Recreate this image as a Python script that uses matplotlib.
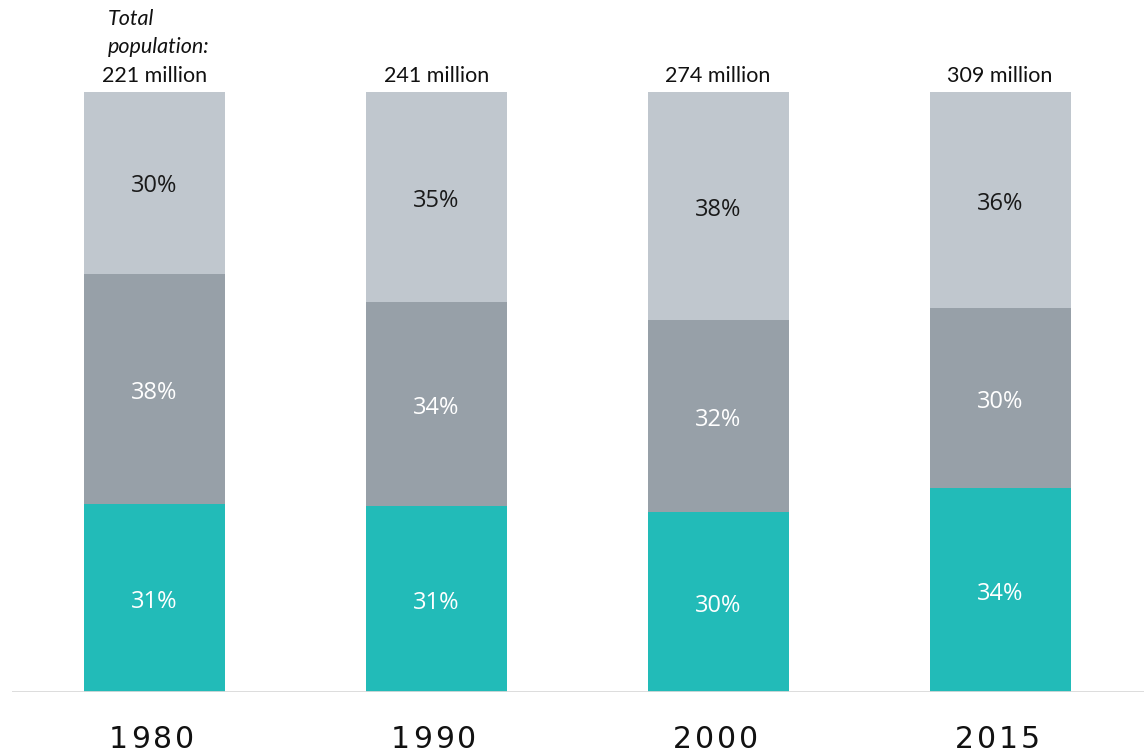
import numpy as np
import matplotlib
matplotlib.use("Agg")
import matplotlib.pyplot as plt

YEARS = ["1980", "1990", "2000", "2015"]
TOTALS = ["221 million", "241 million", "274 million", "309 million"]

# shares of total population, bottom to top
BOTTOM = [31, 31, 30, 34]
MIDDLE = [38, 34, 32, 30]
TOP = [30, 35, 38, 36]

COLORS = ["#22bbb8", "#97a0a8", "#c0c7ce"]
LABEL_COLORS = ["white", "white", "#1a1a1a"]

fig = plt.figure(figsize=(11.44, 7.52), dpi=100)
ax = fig.add_axes([12 / 1144, 60 / 752, 1132 / 1144, 692 / 752])
ax.set_xlim(-0.504, 3.51)
ax.set_ylim(0, 115.33)
ax.axis("off")

x = np.arange(len(YEARS))
stack = np.array([BOTTOM, MIDDLE, TOP], dtype=float)
# bars are scaled so every column fills the full height
scaled = stack / stack.sum(axis=0) * 100

base = np.zeros(len(YEARS))
for i in range(3):
    ax.bar(x, scaled[i], bottom=base, width=0.5, color=COLORS[i], linewidth=0)
    for j in range(len(YEARS)):
        ax.text(x[j], base[j] + scaled[i][j] / 2 - 0.6, f"{int(stack[i][j])}%",
                ha="center", va="center", fontsize=17, family="Open Sans",
                color=LABEL_COLORS[i])
    base += scaled[i]

ax.axhline(0, color="#d9d9d9", linewidth=2)

# total population above each bar
for j in range(len(YEARS)):
    ax.text(x[j], 101.0, TOTALS[j], ha="center", va="bottom", fontsize=15.5,
            family="Lato", color="#111111")
ax.text(x[0] - 0.165, 105.9, "Total\npopulation:", ha="left", va="bottom",
        fontsize=15.5, family="Lato", style="italic", color="#111111",
        linespacing=1.45)

# spaced-out year labels under the axis
pitch = 22 / 282
for j, year in enumerate(YEARS):
    offsets = (np.arange(len(year)) - (len(year) - 1) / 2) * pitch
    for k, ch in enumerate(year):
        ax.text(x[j] + offsets[k] - 0.01, -7.9, ch, ha="center", va="center",
                fontsize=21.5, family="DejaVu Sans", color="#111111",
                clip_on=False)

fig.savefig("out.png", dpi=100)
